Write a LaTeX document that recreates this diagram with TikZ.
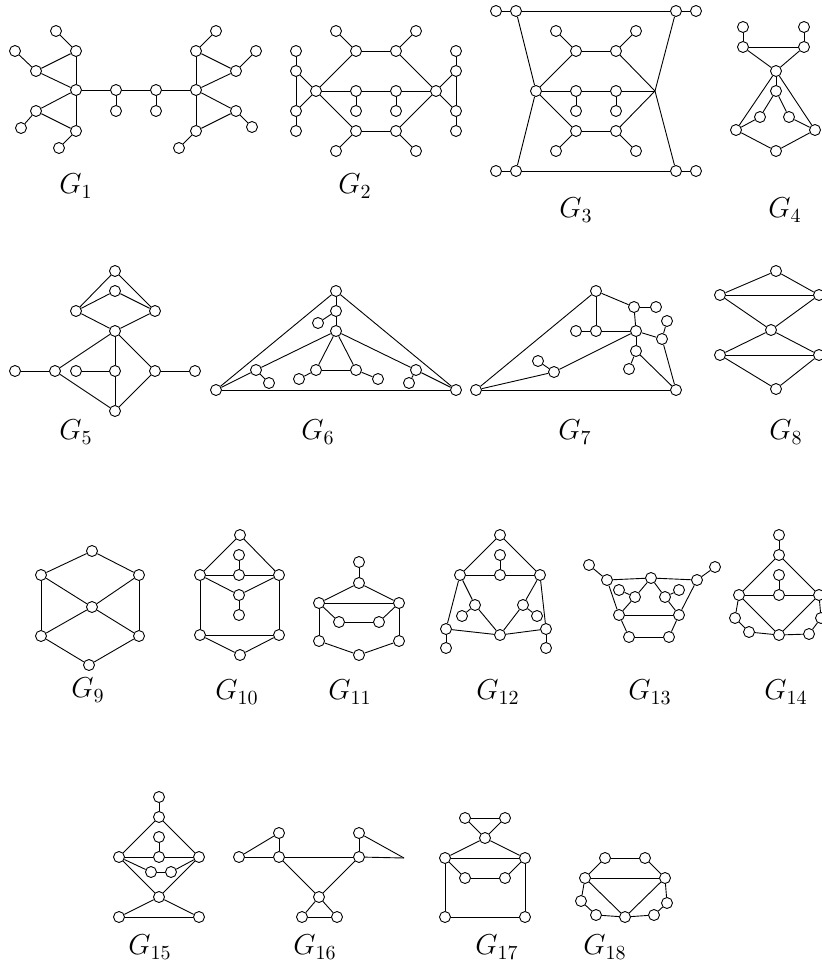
\documentclass[tikz,border=0pt]{standalone}
\usetikzlibrary{positioning}
\tikzset{
  every picture/.style={line width=0.45pt},
  vtx/.style={circle, draw, fill=white, inner sep=0pt, minimum size=5.5pt},
  glabel/.style={font=\Large},
}
\begin{document}
\begin{tikzpicture}[x=0.5pt, y=-0.5pt]
  \useasboundingbox (0,0) rectangle (822,969);
  \newcommand{\gname}[3]{\node[glabel] (#3) at (#1,#2) {$G_{#3}$};}

  % G1
  \foreach \n/\x/\y in {a1/76/90, a2/76/51, a3/56/31, a4/36/71, a5/15/51, a6/36/111, a7/21/128, a8/76/131, a9/59/148,
      a10/116/90, a11/116/111, a12/156/90, a13/156/111, a14/196/90, a15/196/51, a16/216/31, a17/236/71, a18/256/51,
      a19/236/111, a20/252/127, a21/196/131, a22/179/148}
    \node[vtx] (\n) at (\x,\y) {};
  \foreach \u/\v in {a1/a2, a2/a3, a2/a4, a4/a1, a4/a5, a1/a6, a6/a7, a6/a8, a8/a1, a8/a9, a1/a10, a10/a11, a10/a12,
      a12/a13, a12/a14, a14/a15, a15/a16, a15/a17, a17/a14, a17/a18, a14/a19, a19/a20, a19/a21, a21/a14, a21/a22}
    \draw (\u) -- (\v);
  \gname{76}{186}{1}

  % G2
  \foreach \n/\x/\y in {b1/316/91, b2/296/51, b3/296/71, b4/296/111, b5/296/131, b6/356/51, b7/396/51, b8/336/31,
      b9/416/31, b10/356/91, b11/396/91, b12/356/111, b13/396/111, b14/356/131, b15/396/131, b16/336/151,
      b17/416/151, b18/436/91, b19/456/51, b20/456/71, b21/456/111, b22/456/131}
    \node[vtx] (\n) at (\x,\y) {};
  \foreach \u/\v in {b2/b3, b3/b4, b4/b5, b3/b1, b4/b1, b1/b6, b6/b7, b7/b18, b6/b8, b7/b9, b1/b10, b10/b11, b11/b18,
      b10/b12, b11/b13, b1/b14, b14/b15, b15/b18, b14/b16, b15/b17, b19/b20, b20/b21, b21/b22, b20/b18, b21/b18}
    \draw (\u) -- (\v);
  \gname{355}{186}{2}

  % G3
  \foreach \n/\x/\y in {c1/496/11, c2/516/11, c3/676/11, c4/696/11, c5/496/171, c6/516/171, c7/676/171, c8/696/171,
      c9/536/91, c11/576/51, c12/616/51, c13/556/31, c14/636/31, c15/576/91, c16/616/91, c17/576/111,
      c18/616/111, c19/576/131, c20/616/131, c21/556/151, c22/636/151}
    \node[vtx] (\n) at (\x,\y) {};
  \coordinate (c10) at (655,91);
  \foreach \u/\v in {c1/c2, c2/c3, c3/c4, c5/c6, c6/c7, c7/c8, c2/c9, c9/c6, c3/c10, c10/c7, c9/c11, c11/c12,
      c12/c10, c11/c13, c12/c14, c9/c15, c15/c16, c16/c10, c15/c17, c16/c18, c9/c19, c19/c20, c20/c10, c19/c21, c20/c22}
    \draw (\u) -- (\v);
  \gname{576}{210}{3}

  % G4
  \foreach \n/\x/\y in {d1/743/27, d2/804/27, d3/743/47, d4/804/47, d5/776/71, d6/776/91, d7/760/117, d8/789/117,
      d9/736/130, d10/815/130, d11/776/151}
    \node[vtx] (\n) at (\x,\y) {};
  \foreach \u/\v in {d1/d3, d2/d4, d3/d4, d3/d5, d4/d5, d5/d6, d5/d9, d5/d10, d6/d7, d6/d8, d7/d9, d8/d10, d9/d11, d10/d11}
    \draw (\u) -- (\v);
  \gname{785}{210}{4}

  % G5
  \foreach \n/\x/\y in {e1/115/271, e2/115/291, e3/76/311, e4/155/311, e5/115/331, e6/15/371, e7/55/371, e8/76/371,
      e9/115/371, e10/155/371, e11/195/371, e12/115/411}
    \node[vtx] (\n) at (\x,\y) {};
  \foreach \u/\v in {e1/e3, e1/e4, e2/e3, e2/e4, e3/e5, e4/e5, e5/e7, e5/e9, e5/e10, e6/e7, e8/e9, e10/e11, e7/e12,
      e9/e12, e10/e12}
    \draw (\u) -- (\v);
  \gname{76}{432}{5}

  % G6
  \foreach \n/\x/\y in {f1/336/291, f2/336/311, f3/318/323, f4/336/331, f5/216/390, f6/456/390, f7/256/370, f8/269/383,
      f9/416/370, f10/409/383, f11/316/370, f12/356/370, f13/299/379, f14/378/379}
    \node[vtx] (\n) at (\x,\y) {};
  \foreach \u/\v in {f1/f5, f1/f6, f5/f6, f1/f2, f2/f3, f2/f4, f4/f7, f7/f5, f7/f8, f4/f9, f9/f6, f9/f10, f4/f11,
      f4/f12, f11/f12, f11/f13, f12/f14}
    \draw (\u) -- (\v);
  \gname{318}{432}{6}

  % G7
  \foreach \n/\x/\y in {g1/596/291, g2/634/307, g3/656/307, g4/596/331, g5/576/331, g6/636/331, g7/662/339, g8/667/321,
      g9/636/351, g10/629/369, g11/554/372, g12/538/361, g13/476/390, g14/676/390}
    \node[vtx] (\n) at (\x,\y) {};
  \foreach \u/\v in {g13/g1, g1/g2, g2/g3, g2/g6, g1/g4, g5/g4, g4/g6, g6/g7, g7/g8, g7/g14, g6/g9, g9/g10, g9/g14,
      g6/g11, g11/g12, g11/g13, g13/g14}
    \draw (\u) -- (\v);
  \gname{575}{432}{7}

  % G8
  \foreach \n/\x/\y in {h1/776/271, h2/720/295, h3/819/295, h4/771/330, h5/720/355, h6/819/355, h7/776/389}
    \node[vtx] (\n) at (\x,\y) {};
  \foreach \u/\v in {h1/h2, h1/h3, h2/h3, h2/h4, h3/h4, h4/h5, h4/h6, h5/h6, h5/h7, h6/h7}
    \draw (\u) -- (\v);
  \gname{786}{432}{8}

  % G9
  \foreach \n/\x/\y in {i1/92/551, i2/41/575, i3/139/575, i4/92/607, i5/41/636, i6/139/636, i7/89/665}
    \node[vtx] (\n) at (\x,\y) {};
  \foreach \u/\v in {i1/i2, i1/i3, i2/i4, i3/i4, i2/i5, i3/i6, i4/i5, i4/i6, i5/i7, i6/i7}
    \draw (\u) -- (\v);
  \gname{88}{690}{9}

  % G10
  \foreach \n/\x/\y in {j1/240/535, j2/239/555, j3/200/575, j4/239/575, j5/279/575, j6/239/595, j7/239/615,
      j8/200/635, j9/279/635, j10/240/655}
    \node[vtx] (\n) at (\x,\y) {};
  \foreach \u/\v in {j1/j3, j1/j5, j3/j4, j4/j5, j2/j4, j3/j6, j5/j6, j6/j7, j3/j8, j5/j9, j8/j9, j8/j10, j9/j10}
    \draw (\u) -- (\v);
  \gname{237}{692}{10}

  % G11
  \foreach \n/\x/\y in {k1/359/562, k2/359/583, k3/319/603, k4/399/603, k5/339/622, k6/379/622, k7/319/641,
      k8/399/641, k9/359/655}
    \node[vtx] (\n) at (\x,\y) {};
  \foreach \u/\v in {k1/k2, k2/k3, k2/k4, k3/k4, k3/k5, k5/k6, k6/k4, k3/k7, k4/k8, k7/k9, k8/k9}
    \draw (\u) -- (\v);
  \gname{350}{692}{11}

  % G12
  \foreach \n/\x/\y in {l1/500/535, l2/500/555, l3/460/575, l4/500/575, l5/540/575, l6/475/605, l7/462/616,
      l8/523/605, l9/537/616, l10/446/629, l11/446/648, l12/546/629, l13/546/648, l14/500/635}
    \node[vtx] (\n) at (\x,\y) {};
  \foreach \u/\v in {l1/l3, l1/l5, l3/l4, l4/l5, l2/l4, l3/l6, l6/l7, l6/l14, l5/l8, l8/l9, l8/l14, l3/l10, l5/l12,
      l10/l14, l12/l14, l10/l11, l12/l13}
    \draw (\u) -- (\v);
  \gname{498}{692}{12}

  % G13
  \foreach \n/\x/\y in {m1/589/565, m2/607/580, m3/651/578, m4/697/580, m5/715/567, m6/619/590, m7/635/597,
      m8/665/597, m9/679/590, m10/619/615, m11/679/615, m12/629/637, m13/669/637}
    \node[vtx] (\n) at (\x,\y) {};
  \foreach \u/\v in {m1/m2, m2/m3, m3/m4, m4/m5, m2/m10, m4/m11, m3/m7, m3/m8, m7/m6, m8/m9, m7/m10, m8/m11,
      m10/m11, m10/m12, m11/m13, m12/m13}
    \draw (\u) -- (\v);
  \gname{650}{692}{13}

  % G14
  \foreach \n/\x/\y in {n1/779/535, n2/779/555, n3/779/575, n4/779/595, n5/739/595, n6/819/595, n7/735/618,
      n8/749/632, n9/779/635, n10/809/634, n11/821/618}
    \node[vtx] (\n) at (\x,\y) {};
  \foreach \u/\v in {n1/n2, n2/n5, n2/n6, n3/n4, n5/n4, n4/n6, n5/n9, n6/n9, n5/n7, n7/n8, n8/n9, n9/n10, n10/n11, n11/n6}
    \draw (\u) -- (\v);
  \gname{786}{692}{14}

  % G15
  \foreach \n/\x/\y in {o1/159/797, o2/159/817, o3/119/857, o4/159/857, o5/199/857, o6/159/837, o7/151/872,
      o8/171/872, o9/159/897, o10/119/917, o11/199/917}
    \node[vtx] (\n) at (\x,\y) {};
  \foreach \u/\v in {o1/o2, o2/o3, o2/o5, o3/o4, o4/o5, o6/o4, o3/o7, o7/o8, o8/o5, o3/o9, o5/o9, o9/o10, o9/o11, o10/o11}
    \draw (\u) -- (\v);
  \gname{150}{947}{15}

  % G16
  \foreach \n/\x/\y in {p1/239/857, p2/279/833, p3/279/857, p4/359/833, p5/359/857, p7/319/897, p8/302/917, p9/337/917}
    \node[vtx] (\n) at (\x,\y) {};
  \coordinate (p6) at (404,858);
  \foreach \u/\v in {p1/p2, p1/p3, p2/p3, p3/p5, p4/p5, p4/p6, p5/p6, p3/p7, p5/p7, p7/p8, p7/p9, p8/p9}
    \draw (\u) -- (\v);
  \gname{315}{947}{16}

  % G17
  \foreach \n/\x/\y in {q1/465/818, q2/505/818, q3/485/838, q4/445/858, q5/525/858, q6/465/878, q7/505/878,
      q8/445/917, q9/525/917}
    \node[vtx] (\n) at (\x,\y) {};
  \foreach \u/\v in {q1/q2, q1/q3, q2/q3, q3/q4, q3/q5, q4/q5, q4/q6, q6/q7, q7/q5, q4/q8, q5/q9, q8/q9}
    \draw (\u) -- (\v);
  \gname{497}{947}{17}

  % G18
  \foreach \n/\x/\y in {r1/605/858, r2/645/858, r3/585/878, r4/665/878, r5/581/901, r6/667/903, r7/596/915,
      r8/625/917, r9/654/915}
    \node[vtx] (\n) at (\x,\y) {};
  \foreach \u/\v in {r1/r2, r1/r3, r2/r4, r3/r4, r3/r8, r4/r8, r3/r5, r5/r7, r7/r8, r8/r9, r9/r6, r6/r4}
    \draw (\u) -- (\v);
  \gname{605}{947}{18}
\end{tikzpicture}
\end{document}
